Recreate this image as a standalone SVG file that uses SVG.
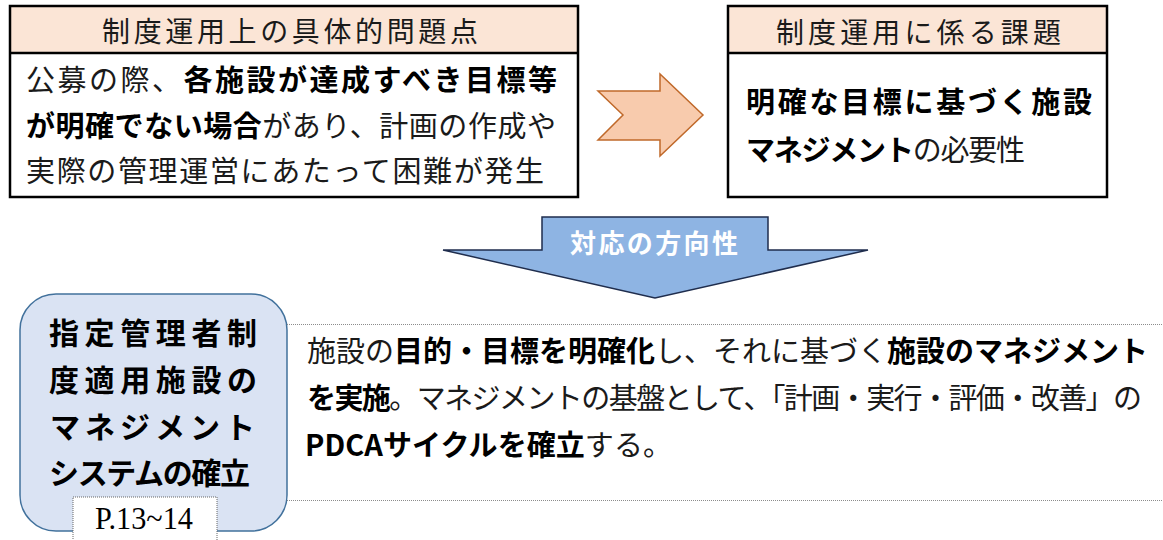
<svg xmlns="http://www.w3.org/2000/svg" width="1163" height="540" viewBox="0 0 1163 540">
<style>
  .t { font-family: "Noto Sans CJK JP", "Noto Sans", sans-serif; font-size: 29px; fill: #1a1a1a; }
  .h { font-size: 28px; }
  .big { font-size: 30px; }
  .b { font-weight: bold; fill: #000; }
  .hdr { fill: #fbe5d6; stroke: none; }
  .frame { fill: none; stroke: #000; stroke-width: 2.5; }
  .sep { stroke: #000; stroke-width: 2.5; }
  .dot { stroke: #8c8c8c; stroke-width: 1; stroke-dasharray: 1 1; fill: none; }
</style>
<rect width="1163" height="540" fill="#fff"/>

<g id="problems">
  <rect x="10" y="6" width="568" height="47" class="hdr"/>
  <rect x="10" y="6" width="568" height="191" class="frame"/>
  <line x1="10" y1="53" x2="578" y2="53" class="sep"/>
  <text class="t h" x="102" y="42" textLength="376" lengthAdjust="spacing">制度運用上の具体的問題点</text>
  <text class="t" x="26" y="91" textLength="531" lengthAdjust="spacing">公募の際、<tspan class="b">各施設が達成すべき目標等</tspan></text>
  <text class="t" x="26" y="137" textLength="530" lengthAdjust="spacing"><tspan class="b">が明確でない場合</tspan>があり、計画の作成や</text>
  <text class="t" x="26" y="182" textLength="518" lengthAdjust="spacing">実際の管理運営にあたって困難が発生</text>
</g>

<g id="issues">
  <rect x="728" y="6" width="379" height="47" class="hdr"/>
  <rect x="728" y="6" width="379" height="191" class="frame"/>
  <line x1="728" y1="53" x2="1107" y2="53" class="sep"/>
  <text class="t h" x="776" y="43" textLength="285" lengthAdjust="spacing">制度運用に係る課題</text>
  <text class="t b" x="746" y="113" textLength="346" lengthAdjust="spacing">明確な目標に基づく施設</text>
  <text class="t" x="746" y="161" textLength="279" lengthAdjust="spacing"><tspan class="b">マネジメント</tspan>の必要性</text>
</g>

<g id="connectors">
  <polygon points="598,91 660,91 660,74 703,115 660,156 660,140 598,140 623,115" fill="#f8cbad" stroke="#c0692a" stroke-width="1.5"/>
  <polygon points="542,217 768,217 768,250 868,250 655,298 443,250 542,250" fill="#8eb4e3" stroke="#1f2d4d" stroke-width="1.5"/>
  <text class="t b" x="570" y="253" style="font-size:26px;fill:#fff" textLength="168" lengthAdjust="spacing">対応の方向性</text>
</g>

<g id="system">
  <rect x="20" y="294" width="267" height="237" rx="36" ry="36" fill="#dae3f3" stroke="#41719c" stroke-width="1.5"/>
  <text class="t big b" x="49" y="344" textLength="208" lengthAdjust="spacing">指定管理者制</text>
  <text class="t big b" x="49" y="391" textLength="208" lengthAdjust="spacing">度適用施設の</text>
  <text class="t big b" x="50" y="438" textLength="205" lengthAdjust="spacing">マネジメント</text>
  <text class="t big b" x="49" y="484" textLength="201" lengthAdjust="spacing">システムの確立</text>
</g>

<g id="page-ref">
  <rect x="73" y="497" width="144" height="50" fill="#fff" stroke="#666" stroke-width="1" stroke-dasharray="1 1"/>
  <text x="95" y="529" font-family="Liberation Serif, serif" font-size="31" fill="#000" textLength="98" lengthAdjust="spacingAndGlyphs">P.13~14</text>
</g>

<g id="direction">
  <line x1="287" y1="324.5" x2="1163" y2="324.5" class="dot"/>
  <line x1="287" y1="500.5" x2="1163" y2="500.5" class="dot"/>
  <text class="t" x="307" y="362" textLength="841" lengthAdjust="spacing">施設の<tspan class="b">目的・目標を明確化</tspan>し、それに基づく<tspan class="b">施設のマネジメント</tspan></text>
  <text class="t" x="307" y="409" textLength="835" lengthAdjust="spacing"><tspan class="b">を実施</tspan>。マネジメントの基盤として、「計画・実行・評価・改善」の</text>
  <text class="t" x="305" y="456" textLength="367" lengthAdjust="spacing"><tspan class="b">PDCAサイクルを確立</tspan>する。</text>
</g>
</svg>
